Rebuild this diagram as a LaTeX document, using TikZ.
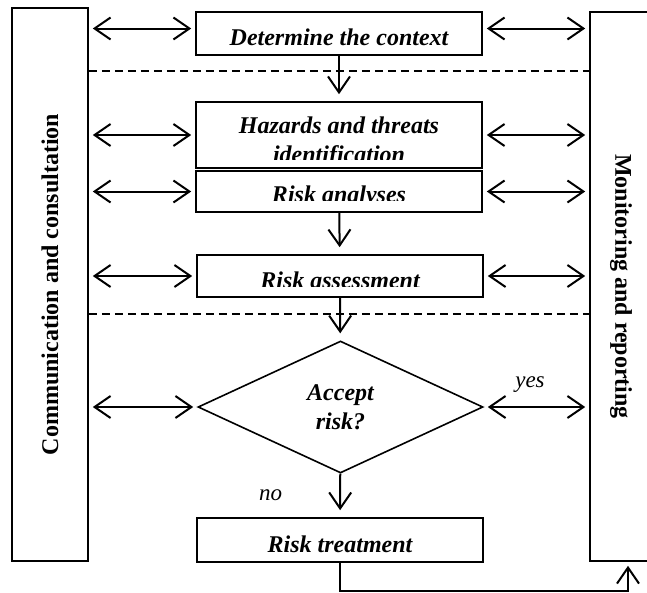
\documentclass[tikz,border=0pt]{standalone}
\usepackage{fontspec}
\setmainfont{Liberation Serif}
\usetikzlibrary{arrows.meta,shapes.geometric}
\newcommand\boxfont{\fontsize{24}{29}\selectfont\bfseries\itshape}
\newcommand\sidefont{\fontsize{24}{29}\selectfont\bfseries}
\newcommand\answerfont{\fontsize{23}{28}\selectfont\itshape}

\begin{document}
\begin{tikzpicture}[x=1pt,y=-1pt,
   stepbox/.style={draw,line width=1.6pt,inner sep=0pt,minimum width=286pt,text height=23pt,text depth=0pt,font=\boxfont,align=center},
   sidebox/.style={draw,line width=1.6pt,inner sep=0pt,font=\sidefont},
   decision/.style={diamond,draw,line width=1.6pt,inner sep=0pt,aspect=2.16,minimum width=285pt,minimum height=132pt,font=\boxfont,align=center},
   cuttext/.style n args={3}{path picture={\clip ([yshift=#1]path picture bounding box.south west) rectangle (path picture bounding box.north east);
      \node[font=\boxfont,align=center,inner sep=0pt,text height=,text depth=] at ([yshift=#2]path picture bounding box.center) {#3};}},
   twoway/.style={{Straight Barb[length=16pt,width=22pt]}-{Straight Barb[length=16pt,width=22pt]},line width=2pt,shorten <=4pt,shorten >=4pt},
   oneway/.style={-{Straight Barb[length=16pt,width=22pt]},line width=2pt,shorten >=7pt},
   cutline/.style={dash pattern=on 8pt off 5pt,line width=1.6pt},
   answer/.style={font=\answerfont,inner sep=0pt}]
\clip (0,0) rectangle (647,592);
  \node [sidebox,minimum width=76pt,minimum height=553pt] at (50,284.5) (comm) {\rotatebox{90}{Communication and consultation}};
   \node [sidebox,minimum width=62pt,minimum height=549pt] at (621,286.5) (monit) {\rotatebox{-90}{Monitoring and reporting}};
    \node [stepbox,minimum height=43pt] at (339,33.5) (context) {Determine the context};
     \node [stepbox,minimum height=66pt,cuttext={9pt}{-7.5pt}{Hazards and threats\\identification}] at (339,135) (hazards) {};
      \node [stepbox,minimum height=41pt,cuttext={12pt}{-5pt}{Risk analyses}] at (339,191.5) (analyses) {};
       \node [stepbox,minimum height=42pt,cuttext={11pt}{-4pt}{Risk assessment}] at (340,276) (assess) {};
        \node [decision] at (340.5,407) (accept) {Accept\\risk?};
         \node [stepbox,minimum height=44pt,text height=24pt] at (340,540) (treat) {Risk treatment};
%
\coordinate (ctx) at ([yshift=5pt]context.center);
\coordinate (cut1) at (339,71);
\coordinate (cut2) at (339,314);
\draw[cutline] (comm.east |- cut1) -- (monit.west |- cut1);
\draw[cutline] (comm.east |- cut2) -- (monit.west |- cut2);
%
\path[twoway] (ctx -| comm.east) edge (ctx -| context.west);
\path[twoway] (comm.east |- hazards) edge (hazards);
\path[twoway] (comm.east |- analyses) edge (analyses);
\path[twoway] (comm.east |- assess) edge (assess);
\path[twoway] (comm.east |- accept) edge (accept);
\path[twoway] (ctx -| context.east) edge (ctx -| monit.west);
\path[twoway] (hazards) edge (hazards -| monit.west);
\path[twoway] (analyses) edge (analyses -| monit.west);
\path[twoway] (assess) edge (assess -| monit.west);
\path[twoway] (accept) edge node [answer,above=14pt,xshift=-6.5pt] {yes} (accept -| monit.west);
%
\path[oneway] (context) edge (hazards);
\path[oneway] (analyses) edge (assess);
\path[oneway] (assess) edge (accept);
\path[oneway] (accept) edge node [answer,left=57pt] {no} (treat);
\draw[oneway,shorten >=4pt] (treat.south) -- ++(0,28) -| ([xshift=7pt]monit.south);

\end{tikzpicture}
\end{document}
